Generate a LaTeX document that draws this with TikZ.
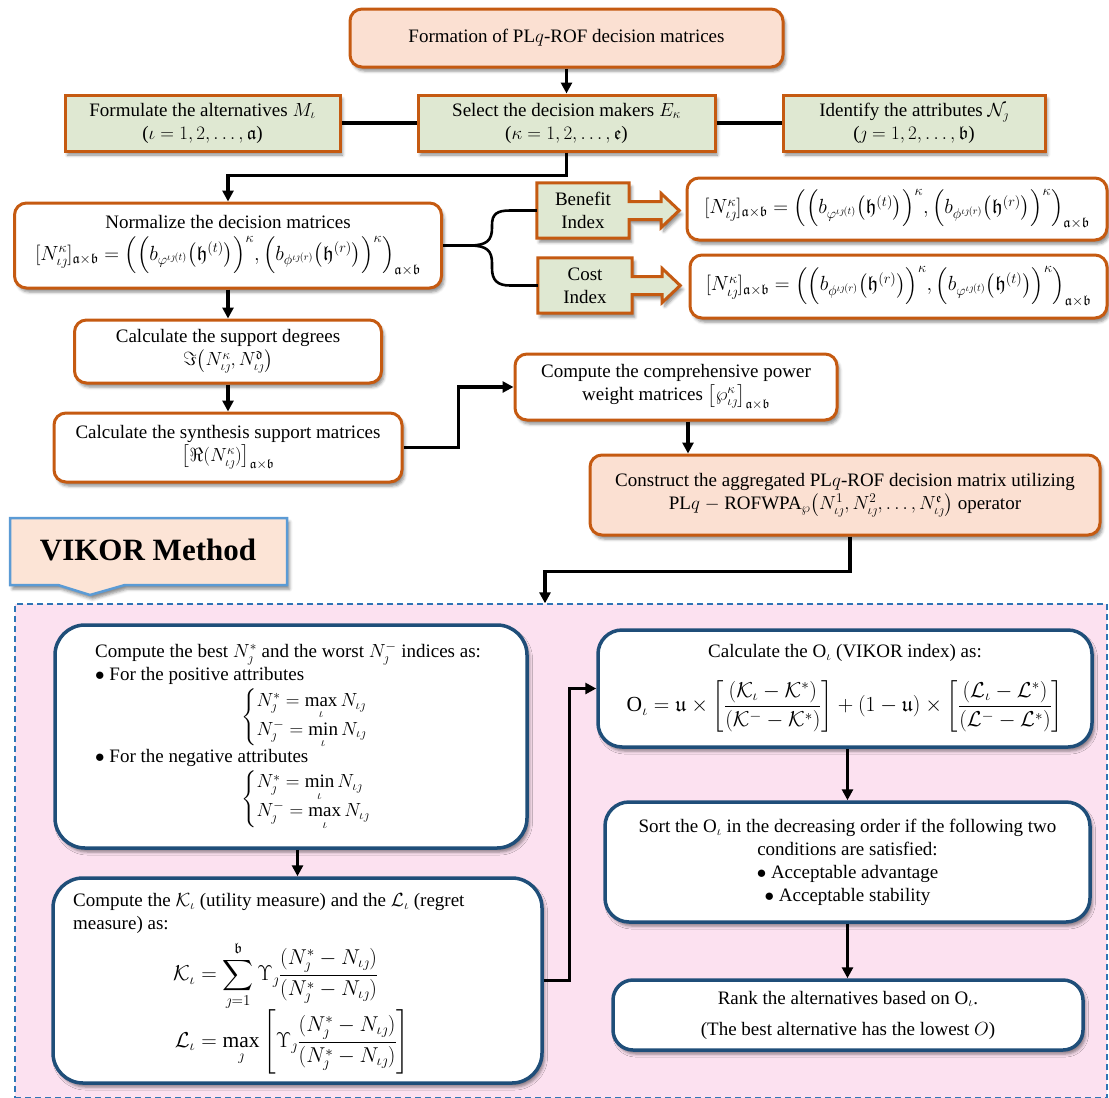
\RequirePackage{fix-cm}
\documentclass[tikz,border=0pt]{standalone}
\usepackage{amsmath,amssymb}
\usepackage{fontspec}
\setmainfont{Liberation Serif}
\usetikzlibrary{arrows.meta,shadows.blur}
\definecolor{obrd}{HTML}{C55A11}
\definecolor{pinkF}{HTML}{FBE0D2}
\definecolor{greenF}{HTML}{DFE8D2}
\definecolor{regF}{HTML}{FCE1F0}
\definecolor{dbrd}{HTML}{2E75B6}
\definecolor{bbrd}{HTML}{1F4E79}
\definecolor{cbrd}{HTML}{5B9BD5}
\definecolor{calF}{HTML}{FCE4D6}
\newcommand{\fmlsize}{\fontsize{20.5}{24}\selectfont}
\newcommand{\bigfml}{\fontsize{21.5}{25}\selectfont}
\begin{document}
\begin{tikzpicture}[x=1pt,y=-1pt,
  every node/.style={font=\fontsize{19}{23}\selectfont, inner sep=2pt},
  shad/.style={blur shadow={shadow xshift=2.5pt,shadow yshift=-4pt,shadow blur radius=3pt,shadow opacity=45}},
  obox/.style={draw=obrd,line width=3pt,fill=white,rounded corners=12pt,align=center,shad},
  pbox/.style={obox,fill=pinkF},
  gbox/.style={draw=obrd,line width=3pt,fill=greenF,align=center,shad},
  bbox/.style={draw=bbrd,line width=3.5pt,fill=white,rounded corners=30pt,shad},
  gshape/.style={draw=obrd,line width=3pt,fill=greenF,line join=miter,shad},
  conn/.style={line width=3.4pt,black},
  arr/.style={conn,-{Triangle[length=11pt,width=11pt]}},
  fml/.style={font=\fmlsize}
]
\useasboundingbox (0,0) rectangle (1109,1098);

% ---------------- upper part ----------------
\node[pbox,minimum width=433pt,minimum height=58pt] (form) at (566.5,38) {Formation of PL$q$-ROF decision matrices};

\node[gbox,minimum width=275pt,minimum height=56pt] (alt) at (202.5,123) {Formulate the alternatives $M_\iota$\\($\iota=1,2,\ldots,\mathfrak{a}$)};
\node[gbox,minimum width=297pt,minimum height=56pt] (dm) at (566.5,123) {Select the decision makers $E_\kappa$\\($\kappa=1,2,\ldots,\mathfrak{e}$)};
\node[gbox,minimum width=262pt,minimum height=56pt] (att) at (914,123) {Identify the attributes $\mathcal{N}_\jmath$\\($\jmath=1,2,\ldots,\mathfrak{b}$)};

\node[obox,minimum width=427pt,minimum height=85pt] (norm) at (228,245.5) {Normalize the decision matrices\\[6pt] \fmlsize $[N^{\kappa}_{\iota\jmath}]_{\mathfrak{a}\times\mathfrak{b}}=\Big(\Big(b_{\varphi^{\iota\jmath(t)}}\big(\mathfrak{h}^{(t)}\big)\Big)^{\kappa},\Big(b_{\phi^{\iota\jmath(r)}}\big(\mathfrak{h}^{(r)}\big)\Big)^{\kappa}\Big)_{\mathfrak{a}\times\mathfrak{b}}$};

% benefit / cost callouts
\node[minimum width=92pt,minimum height=55pt] (ben) at (583,210.5) {};
\path[gshape] (ben.north west) -- (ben.north east) -- ([yshift=9pt]ben.east) -- ++(32,0) -- ++(0,-8) -- ++(18,17) -- ++(-18,17) -- ++(0,-8) -- ++(-32,0) -- (ben.south east) -- (ben.south west) -- cycle;
\node[align=center] (bent) at (ben) {Benefit\\Index};

\node[minimum width=94pt,minimum height=55pt] (cost) at (585,285.5) {};
\path[gshape] (cost.north west) -- (cost.north east) -- ([yshift=9pt]cost.east) -- ++(30,0) -- ++(0,-8) -- ++(18,17) -- ++(-18,17) -- ++(0,-8) -- ++(-30,0) -- (cost.south east) -- (cost.south west) -- cycle;
\node[align=center] (costt) at (cost) {Cost\\Index};

\node[obox,minimum width=420pt,minimum height=62pt,fml] (bf) at (897,209) {$[N^{\kappa}_{\iota\jmath}]_{\mathfrak{a}\times\mathfrak{b}}=\Big(\Big(b_{\varphi^{\iota\jmath(t)}}\big(\mathfrak{h}^{(t)}\big)\Big)^{\kappa},\Big(b_{\phi^{\iota\jmath(r)}}\big(\mathfrak{h}^{(r)}\big)\Big)^{\kappa}\Big)_{\mathfrak{a}\times\mathfrak{b}}$};
\node[obox,minimum width=417pt,minimum height=63pt,fml] (cf) at (898.5,286.5) {$[N^{\kappa}_{\iota\jmath}]_{\mathfrak{a}\times\mathfrak{b}}=\Big(\Big(b_{\phi^{\iota\jmath(r)}}\big(\mathfrak{h}^{(r)}\big)\Big)^{\kappa},\Big(b_{\varphi^{\iota\jmath(t)}}\big(\mathfrak{h}^{(t)}\big)\Big)^{\kappa}\Big)_{\mathfrak{a}\times\mathfrak{b}}$};

\node[obox,minimum width=307pt,minimum height=63pt] (sup) at (228,351.5) {Calculate the support degrees\\$\Im\big(N^{\kappa}_{\iota\jmath},N^{\mathfrak{d}}_{\iota\jmath}\big)$};
\node[obox,minimum width=348pt,minimum height=69pt] (syn) at (228,447.5) {Calculate the synthesis support matrices\\$\big[\Re(N^{\kappa}_{\iota\jmath})\big]_{\mathfrak{a}\times\mathfrak{b}}$};
\node[obox,minimum width=322pt,minimum height=66pt] (comp) at (676,387) {Compute the comprehensive power\\weight matrices $\big[\wp^{\kappa}_{\iota\jmath}\big]_{\mathfrak{a}\times\mathfrak{b}}$};
\node[pbox,minimum width=510pt,minimum height=80pt] (cons) at (845,495) {Construct the aggregated PL$q$-ROF decision matrix utilizing\\PL$q$ $-$ ROFWPA$_{\wp}\big(N^{1}_{\iota\jmath},N^{2}_{\iota\jmath},\ldots,N^{\mathfrak{e}}_{\iota\jmath}\big)$ operator};

% upper connectors
\draw[arr] (form.south) -- (dm.north);
\draw[conn] (alt.east) -- (dm.west);
\draw[conn] (dm.east) -- (att.west);
\draw[arr] (dm.south) -- ++(0,23) -| (norm.north);
\draw[conn,line width=2.6pt] (norm.east) -- (470,245.5) .. controls (487,245.5) and (492,240) .. (492,228) -- (492,225) .. controls (492,214) and (497,210.5) .. (510,210.5) -- (ben.west);
\draw[conn,line width=2.6pt] (470,245.5) .. controls (487,245.5) and (492,251) .. (492,263) -- (492,268) .. controls (492,280) and (497,285.5) .. (510,285.5) -- (cost.west);
\draw[arr] (norm.south) -- (sup.north);
\draw[arr] (sup.south) -- (syn.north);
\draw[arr] (syn.east) -- ++(55,0) |- (comp.west);
\coordinate (c1) at ([xshift=12pt]comp.south);
\draw[arr] (c1) -- (c1 |- cons.north);

% ---------------- VIKOR part ----------------
\node[draw=dbrd,dash pattern=on 6pt off 4pt,line width=1.3pt,fill=regF,minimum width=1092pt,minimum height=494pt,inner sep=0pt] (vik) at (561,851) {};

\path[draw=cbrd,line width=2.5pt,fill=calF,shad] (10,518) -- (287,518) -- (287,585) -- (125,585) -- (90,595) -- (58,585) -- (10,585) -- cycle;
\node[font=\fontsize{31}{36}\selectfont\bfseries] (vm) at (148,550) {VIKOR Method};

\coordinate (c2) at ([xshift=5pt]cons.south);
\coordinate (c3) at ([xshift=-16pt]vik.north);
\draw[arr] (c2) -- ++(0,35) -| (c3);

\node[bbox,minimum width=472pt,minimum height=223pt] (best) at (291,736.5) {};
\node[anchor=north west,align=left,inner sep=0pt] (bestt) at (95,643) {Compute the best $N^{*}_{\jmath}$ and the worst $N^{-}_{\jmath}$ indices as:\\
$\bullet$ For the positive attributes\\[1pt]
\hspace*{146pt}$\begin{cases}N^{*}_{\jmath}=\max\limits_{\iota}N_{\iota\jmath}\\[-4pt] N^{-}_{\jmath}=\min\limits_{\iota}N_{\iota\jmath}\end{cases}$\\
$\bullet$ For the negative attributes\\[1pt]
\hspace*{146pt}$\begin{cases}N^{*}_{\jmath}=\min\limits_{\iota}N_{\iota\jmath}\\[-4pt] N^{-}_{\jmath}=\max\limits_{\iota}N_{\iota\jmath}\end{cases}$};

\node[bbox,minimum width=489pt,minimum height=205pt] (util) at (297.5,980.5) {};
\node[anchor=north west,align=left,inner sep=0pt] (utilt) at (73,893) {Compute the $\mathcal{K}_\iota$ (utility measure) and the $\mathcal{L}_\iota$ (regret\\
measure) as:\\[7pt]
\hspace*{100pt}{\bigfml$\begin{aligned}\mathcal{K}_\iota&=\sum_{\jmath=1}^{\mathfrak{b}}\Upsilon_\jmath\frac{(N^{*}_{\jmath}-N_{\iota\jmath})}{(N^{*}_{\jmath}-N_{\iota\jmath})}\\[-5pt] \mathcal{L}_\iota&=\max_{\jmath}\left[\Upsilon_\jmath\frac{(N^{*}_{\jmath}-N_{\iota\jmath})}{(N^{*}_{\jmath}-N_{\iota\jmath})}\right]\end{aligned}$}};

\node[bbox,rounded corners=24pt,minimum width=494pt,minimum height=117pt,align=center] (vidx) at (845,688.5) {Calculate the O$_\iota$ (VIKOR index) as:\\[18pt]\bigfml$\mathrm{O}_\iota=\mathfrak{u}\times\left[\dfrac{(\mathcal{K}_\iota-\mathcal{K}^{*})}{(\mathcal{K}^{-}-\mathcal{K}^{*})}\right]+(1-\mathfrak{u})\times\left[\dfrac{(\mathcal{L}_\iota-\mathcal{L}^{*})}{(\mathcal{L}^{-}-\mathcal{L}^{*})}\right]$};

\node[bbox,rounded corners=24pt,minimum width=485pt,minimum height=120pt,align=center] (sort) at (847.5,862) {Sort the O$_\iota$ in the decreasing order if the following two\\conditions are satisfied:\\$\bullet$ Acceptable advantage\\$\bullet$ Acceptable stability};

\node[bbox,rounded corners=20pt,minimum width=470pt,minimum height=70pt,align=center] (rank) at (848,1015) {Rank the alternatives based on O$_\iota$.\\[8pt](The best alternative has the lowest $O$)};

\draw[arr] (best.south -| util.north) -- (util.north);
\draw[arr] (util.east) -- ++(26,0) |- (vidx.west);
\draw[arr] (vidx.south -| sort.north) -- (sort.north);
\draw[arr] (sort.south) -- (sort.south |- rank.north);
\end{tikzpicture}
\end{document}
